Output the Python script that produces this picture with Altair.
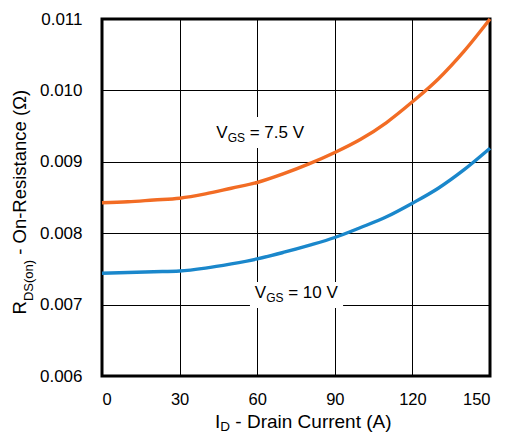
import altair as alt
import pandas as pd

# ---- data ----
current_a = [0, 10, 20, 30, 40, 50, 60, 70, 80, 90, 100, 110, 120, 130, 140, 150]
r_vgs_7p5 = [0.008427, 0.00844, 0.008465, 0.00849, 0.00855, 0.00863, 0.00871, 0.00883,
             0.00897, 0.00913, 0.009315, 0.00955, 0.00984, 0.01016, 0.01055, 0.01100]
r_vgs_10 = [0.00744, 0.00745, 0.00746, 0.00747, 0.00751, 0.00757, 0.00764, 0.00773,
            0.00783, 0.00794, 0.00808, 0.00823, 0.00842, 0.00863, 0.00889, 0.00919]
series_names = ["VGS = 7.5 V", "VGS = 10 V"]
series_colors = ["#F26C24", "#1A87CB"]
x_ticks = [0, 30, 60, 90, 120, 150]
y_ticks = [0.006, 0.007, 0.008, 0.009, 0.010, 0.011]
label_7p5 = ["V", "GS", "= 7.5 V"]
label_10 = ["V", "GS", "= 10 V"]
x_title = ["I", "D", "- Drain Current (A)"]
y_title = ["R", "DS(on)", "- On-Resistance (\u03a9)"]

FONT = "Liberation Sans"

df = pd.DataFrame({
    "I": current_a * 2,
    "R": r_vgs_7p5 + r_vgs_10,
    "series": [series_names[0]] * len(current_a) + [series_names[1]] * len(current_a),
})

x_scale = alt.Scale(domain=[0, 150], nice=False, zero=False)
y_scale = alt.Scale(domain=[0.006, 0.011], nice=False, zero=False)

lines = alt.Chart(df).mark_line(strokeWidth=3.4, interpolate="monotone").encode(
    x=alt.X("I:Q", scale=x_scale, axis=alt.Axis(values=x_ticks, title=None, labelPadding=15, labelFontSize=16.5)),
    y=alt.Y("R:Q", scale=y_scale, axis=alt.Axis(values=y_ticks, format=".3f", title=None, labelPadding=20)),
    color=alt.Color("series:N", scale=alt.Scale(domain=series_names, range=series_colors), legend=None),
    detail="series:N",
)

one = pd.DataFrame({"k": [0]})


def box(x1, x2, y1, y2):
    return alt.Chart(one).mark_rect(color="white").encode(
        x=alt.datum(x1, scale=x_scale), x2=alt.datum(x2),
        y=alt.datum(y1, scale=y_scale), y2=alt.datum(y2),
    )


def data_text(txt, x, y, size, dx=0, dy=0):
    return alt.Chart(pd.DataFrame({"t": [txt]})).mark_text(
        align="left", baseline="alphabetic", font=FONT, fontSize=size, color="black", dx=dx, dy=dy
    ).encode(x=alt.datum(x, scale=x_scale), y=alt.datum(y, scale=y_scale), text="t:N")


def px_text(txt, x, y, size, angle=0):
    return alt.Chart(pd.DataFrame({"t": [txt]})).mark_text(
        align="left", baseline="alphabetic", font=FONT, fontSize=size, color="black", angle=angle
    ).encode(x=alt.value(x), y=alt.value(y), text="t:N")


layers = [
    box(41.8, 78.9, 0.009627, 0.009193),
    box(57.2, 93.2, 0.007317, 0.006952),
    lines,
    data_text(label_7p5[0], 44.2, 0.009333, 17),
    data_text(label_7p5[1], 44.2, 0.009333, 12, dx=11.3, dy=3.5),
    data_text(label_7p5[2], 44.2, 0.009333, 17, dx=33.3),
    data_text(label_10[0], 59.1, 0.007092, 17),
    data_text(label_10[1], 59.1, 0.007092, 12, dx=11.3, dy=3.5),
    data_text(label_10[2], 59.1, 0.007092, 17, dx=33.3),
    px_text(x_title[0], 113, 408.5, 19),
    px_text(x_title[1], 118.3, 411.5, 13.5),
    px_text(x_title[2], 133.3, 408.5, 19),
    px_text(y_title[0], -76.5, 295.5, 18.5, angle=270),
    px_text(y_title[1], -69, 282.1, 13, angle=270),
    px_text(y_title[2], -76.5, 235.8, 18.5, angle=270),
]

chart = alt.layer(*layers).properties(
    width=388, height=357,
    autosize=alt.AutoSizeParams(type="none"),
    padding={"left": 94, "top": 11, "right": 14, "bottom": 57},
).configure_view(
    stroke="black", strokeWidth=3
).configure_axis(
    grid=True, gridColor="black", gridWidth=1, gridOpacity=1,
    domain=False, ticks=False,
    labelFont=FONT, labelFontSize=17, labelColor="black",
)

chart.save("out.html", embed_options={"renderer": "svg", "actions": False})
